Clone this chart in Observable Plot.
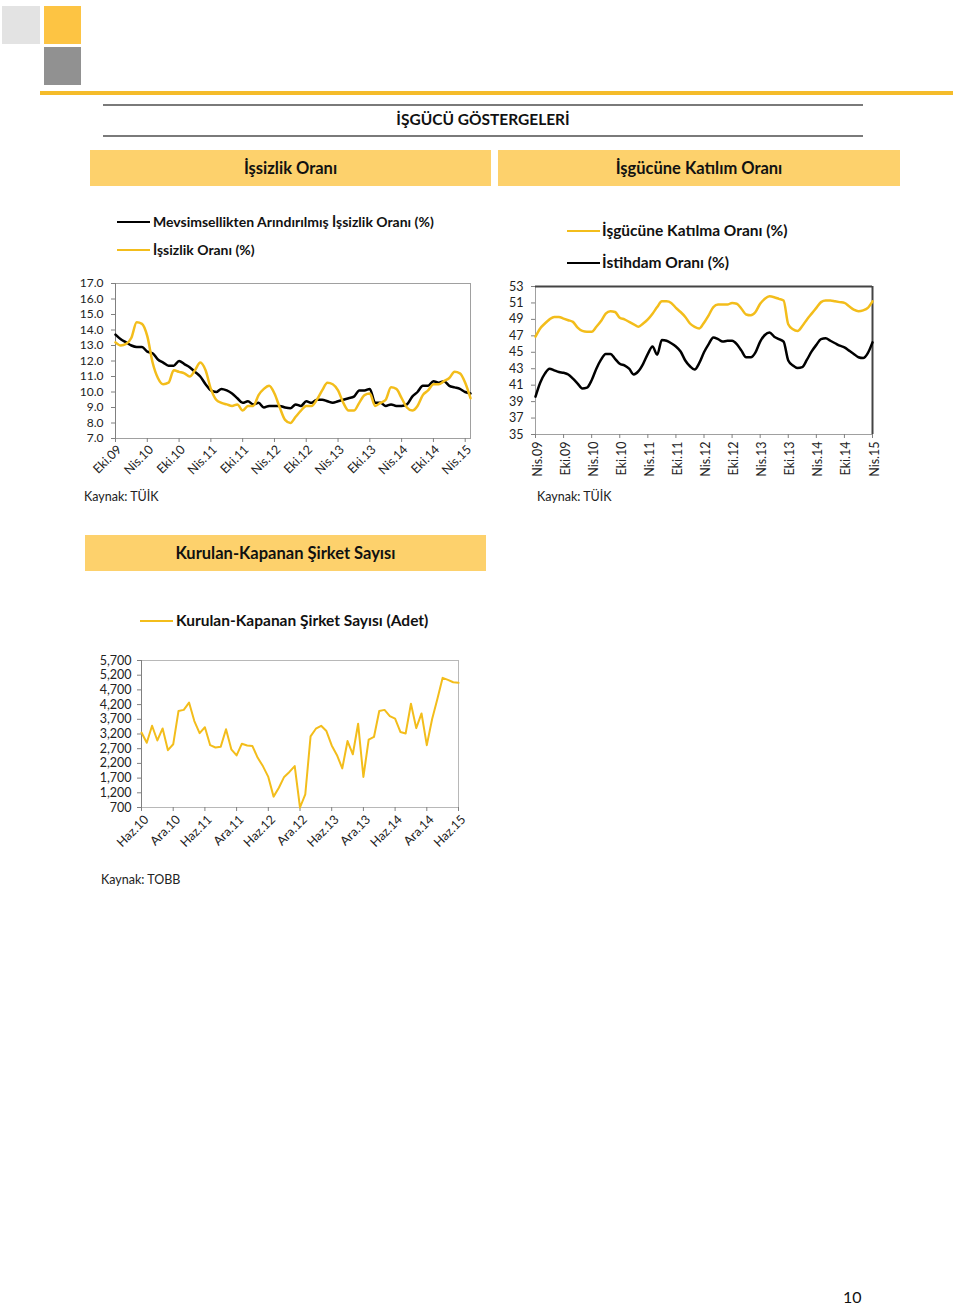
<!DOCTYPE html>
<html><head><meta charset="utf-8">
<script src="https://cdn.jsdelivr.net/npm/d3@7"></script>
<script src="https://cdn.jsdelivr.net/npm/@observablehq/plot@0.6"></script>
<style>
html,body{margin:0;padding:0;background:#fff}
body{width:960px;height:1305px;position:relative;overflow:hidden;font-family:Lato,"Open Sans",sans-serif;color:#111}
.box{position:absolute}
.hdr{position:absolute;background:#FDD16C;display:flex;align-items:center;justify-content:center;font-weight:bold;font-size:16.5px;color:#111}
.txt{position:absolute;white-space:nowrap;transform:translateY(-50%);line-height:1}
.leg{font-weight:bold;font-size:14px;color:#111}
.leg2{font-weight:bold;font-size:15.5px;color:#111}
.lg{position:absolute;height:2px}
.src{font-size:12.5px;color:#222}
svg.chart{position:absolute;overflow:visible}
</style>
</head><body>
<div class="box" style="left:2px;top:6px;width:38px;height:38px;background:#E3E3E3"></div>
<div class="box" style="left:44px;top:6px;width:37px;height:38px;background:#FDC443"></div>
<div class="box" style="left:44px;top:47px;width:37px;height:38px;background:#919191"></div>
<div class="box" style="left:40px;top:91px;width:913px;height:4px;background:#F5BC2A"></div>
<div class="box" style="left:103px;top:104px;width:760px;height:2px;background:#7a7a7a"></div>
<div class="box" style="left:103px;top:135px;width:760px;height:2px;background:#7a7a7a"></div>
<div class="txt" style="left:0;width:966px;text-align:center;top:120px;font-weight:bold;font-size:15.5px">İŞGÜCÜ GÖSTERGELERİ</div>

<div class="hdr" style="left:90px;top:150px;width:401px;height:36px">İşsizlik Oranı</div>
<div class="hdr" style="left:498px;top:150px;width:402px;height:36px">İşgücüne Katılım Oranı</div>
<div class="hdr" style="left:85px;top:535px;width:401px;height:36px">Kurulan-Kapanan Şirket Sayısı</div>

<div class="lg" style="left:117px;top:221px;width:33px;background:#000"></div>
<div class="txt leg" style="left:153px;top:222px">Mevsimsellikten Arındırılmış İşsizlik Oranı (%)</div>
<div class="lg" style="left:117px;top:249px;width:33px;background:#F3BD1B"></div>
<div class="txt leg" style="left:153px;top:250px">İşsizlik Oranı (%)</div>

<div class="lg" style="left:567px;top:230px;width:33px;background:#F3BD1B"></div>
<div class="txt leg2" style="left:602px;top:231px">İşgücüne Katılma Oranı (%)</div>
<div class="lg" style="left:567px;top:262px;width:33px;background:#000"></div>
<div class="txt leg2" style="left:602px;top:263px">İstihdam Oranı (%)</div>

<div class="lg" style="left:140px;top:620px;width:33px;background:#F3BD1B"></div>
<div class="txt leg2" style="left:176px;top:621px">Kurulan-Kapanan Şirket Sayısı (Adet)</div>

<div class="txt src" style="left:84px;top:497px">Kaynak: TÜİK</div>
<div class="txt src" style="left:537px;top:497px">Kaynak: TÜİK</div>
<div class="txt src" style="left:101px;top:880px">Kaynak: TOBB</div>
<div class="txt" style="left:843px;top:1297px;font-size:16px">10</div>

<script>
const yellow = "#F3BD1B";
const monthNames = ["Oca","Şub","Mar","Nis","May","Haz","Tem","Ağu","Eyl","Eki","Kas","Ara"];
function monthSeq(startM, startY, n){
  const out=[];
  for(let i=0;i<n;i++){const k=startM+i; out.push(monthNames[k%12]+"."+String(startY+Math.floor(k/12)).padStart(2,"0"));}
  return out;
}

// Chart 1: unemployment (Eki.09 - May.15)
const cats1 = monthSeq(9, 9, 68);
const ticks1 = ["Eki.09","Nis.10","Eki.10","Nis.11","Eki.11","Nis.12","Eki.12","Nis.13","Eki.13","Nis.14","Eki.14","Nis.15"];
const yTicks1 = [7,8,9,10,11,12,13,14,15,16,17];
const unempSA = [13.7,13.4,13.2,13.0,12.9,12.9,12.6,12.5,12.1,11.9,
  11.7,11.7,12.0,11.8,11.6,11.3,11.0,10.5,10.1,10.0,
  10.2,10.1,9.9,9.6,9.3,9.4,9.2,9.3,9.0,9.1,
  9.1,9.1,9.0,8.95,9.2,9.1,9.4,9.3,9.5,9.5,
  9.4,9.3,9.4,9.5,9.6,9.7,10.1,10.1,10.2,9.3,
  9.3,9.1,9.2,9.1,9.1,9.2,9.7,10.0,10.4,10.4,
  10.7,10.6,10.7,10.4,10.3,10.2,10.0,9.9];
const unempRaw = [13.2,13.0,13.1,13.5,14.5,14.4,13.6,11.9,10.9,10.5,
  10.6,11.4,11.3,11.2,11.0,11.4,11.9,11.4,10.2,9.5,
  9.3,9.2,9.1,9.2,8.8,9.1,9.1,9.8,10.2,10.4,
  9.9,9.0,8.2,8.0,8.4,8.8,9.1,9.1,9.5,10.1,
  10.6,10.5,10.1,9.3,8.8,8.8,9.3,9.8,9.9,9.1,
  9.3,9.5,10.3,10.2,9.6,9.0,8.8,9.1,9.8,10.1,
  10.5,10.5,10.7,10.9,11.3,11.2,10.6,9.6];

// Chart 2: participation & employment (Nis.09 - Nis.15)
const cats2 = monthSeq(3, 9, 73);
const ticks2 = ["Nis.09","Eki.09","Nis.10","Eki.10","Nis.11","Eki.11","Nis.12","Eki.12","Nis.13","Eki.13","Nis.14","Eki.14","Nis.15"];
const yTicks2 = [35,37,39,41,43,45,47,49,51,53];
const partRate = [46.9,47.9,48.5,49.0,49.3,49.3,49.1,48.9,48.7,48.0,
  47.6,47.5,47.5,48.1,48.8,49.7,50.0,49.9,49.2,49.0,
  48.7,48.4,48.1,48.5,49.0,49.7,50.5,51.2,51.2,51.0,
  50.4,49.9,49.3,48.5,48.1,47.9,48.6,49.5,50.5,50.8,
  50.8,50.8,51.0,50.9,50.3,49.6,49.5,49.9,50.9,51.5,
  51.8,51.7,51.5,51.3,48.4,47.8,47.6,48.2,49.0,49.7,
  50.4,51.1,51.3,51.3,51.2,51.1,51.0,50.6,50.2,50.0,
  50.1,50.4,51.2];
const empRate = [39.6,41.3,42.4,43.0,42.8,42.6,42.5,42.3,41.8,41.2,
  40.6,40.7,41.6,43.0,44.1,44.8,44.8,44.2,43.6,43.4,
  43.0,42.3,42.7,43.6,44.8,45.7,44.7,46.5,46.4,46.1,
  45.7,45.1,44.0,43.3,42.9,43.7,45.0,46.0,46.8,46.6,
  46.3,46.4,46.4,46.0,45.2,44.4,44.4,45.0,46.3,47.1,
  47.4,46.9,46.6,46.3,44.0,43.4,43.1,43.2,44.1,45.1,
  45.9,46.6,46.7,46.4,46.1,45.8,45.6,45.2,44.8,44.4,
  44.3,44.9,46.2];

// Chart 3: firms (Haz.10 - Haz.15)
const cats3 = monthSeq(5, 10, 61);
const ticks3 = ["Haz.10","Ara.10","Haz.11","Ara.11","Haz.12","Ara.12","Haz.13","Ara.13","Haz.14","Ara.14","Haz.15"];
const yTicks3 = [700,1200,1700,2200,2700,3200,3700,4200,4700,5200,5700];
const firms = [3250,2900,3480,2980,3390,2650,2850,3980,4020,4270,
  3640,3230,3430,2820,2740,2770,3360,2680,2470,2870,
  2810,2790,2390,2100,1740,1070,1370,1740,1910,2110,
  700,1150,3120,3380,3480,3300,2810,2480,2030,2960,
  2510,3550,1740,3010,3100,3980,4020,3810,3720,3270,
  3220,4230,3400,3900,2820,3700,4390,5110,5040,4960,
  4940];

function place(svg, left, top){
  svg.classList.add("chart");
  svg.style.left = left+"px"; svg.style.top = top+"px";
  document.body.appendChild(svg);
}
const baseStyle = {fontFamily:"Lato, sans-serif", color:"#222", background:"transparent", overflow:"visible"};
function xScale(cats, r){
  return {type:"linear", domain:[0, cats.length-1], range:r, insetLeft:0, insetRight:0, inset:0};
}
function xTicks(cats, ticks){ return ticks.map(t=>cats.indexOf(t)); }

const t1 = cats1.map((m,i)=>({i, sa:unempSA[i], raw:unempRaw[i]}));
place(Plot.plot({
  width:430, height:230, marginLeft:55, marginRight:20, marginTop:13, marginBottom:62,
  style:{...baseStyle, fontSize:"12.5px"},
  x:xScale(cats1, [55, 410]),
  y:{domain:[7,17]},
  marks:[
    Plot.frame({stroke:"#a0a0a0"}),
    Plot.ruleX([0], {stroke:"#808080"}),
    Plot.axisY({ticks:yTicks1, tickFormat:d=>d.toFixed(1), tickSize:4, tickPadding:8, label:null, stroke:"#808080", fontSize:12}),
    Plot.axisX({ticks:xTicks(cats1, ticks1), tickFormat:()=>"", tickSize:4, label:null, stroke:"#808080"}),
    Plot.axisX({ticks:xTicks(cats1, ticks1), tickFormat:i=>cats1[i], tickRotate:-45, tickSize:0, tickPadding:9, dx:4, label:null}),
    Plot.lineY(t1, {x:"i", y:"sa", stroke:"#000", strokeWidth:2.5, curve:"monotone-x"}),
    Plot.lineY(t1, {x:"i", y:"raw", stroke:yellow, strokeWidth:2.5, curve:"monotone-x"})
  ]
}), 60, 270);

const t2 = cats2.map((m,i)=>({i, p:partRate[i], e:empRate[i]}));
place(Plot.plot({
  width:400, height:210, marginLeft:40, marginRight:23, marginTop:11, marginBottom:51,
  style:{...baseStyle, fontSize:"12.5px"},
  x:xScale(cats2, [40, 377]),
  y:{domain:[35,53]},
  marks:[
    Plot.frame({stroke:"#a0a0a0"}),
    Plot.ruleY([53], {stroke:"#444", strokeWidth:2}),
    Plot.ruleX([cats2.length-1], {stroke:"#444", strokeWidth:2}),
    Plot.axisY({ticks:yTicks2, tickSize:4, tickPadding:8, label:null, stroke:"#808080"}),
    Plot.axisX({ticks:xTicks(cats2, ticks2), tickFormat:()=>"", tickSize:4, label:null, stroke:"#808080"}),
    Plot.axisX({ticks:xTicks(cats2, ticks2), tickFormat:i=>cats2[i], tickRotate:-90, tickSize:0, tickPadding:7, dx:2, label:null}),
    Plot.lineY(t2, {x:"i", y:"p", stroke:yellow, strokeWidth:2.5, curve:"monotone-x"}),
    Plot.lineY(t2, {x:"i", y:"e", stroke:"#000", strokeWidth:2.5, curve:"monotone-x"})
  ]
}), 495, 275);

const t3 = cats3.map((m,i)=>({i, v:firms[i]}));
place(Plot.plot({
  width:390, height:210, marginLeft:51, marginRight:22, marginTop:10, marginBottom:53,
  style:{...baseStyle, fontSize:"12.5px"},
  x:xScale(cats3, [51, 368]),
  y:{domain:[700,5700]},
  marks:[
    Plot.frame({stroke:"#b8b8b8"}),
    Plot.ruleX([0], {stroke:"#808080"}),
    Plot.axisY({ticks:yTicks3, tickFormat:d3.format(","), tickSize:4, tickPadding:6, label:null, stroke:"#808080"}),
    Plot.axisX({ticks:xTicks(cats3, ticks3), tickFormat:()=>"", tickSize:4, label:null, stroke:"#808080"}),
    Plot.axisX({ticks:xTicks(cats3, ticks3), tickFormat:i=>cats3[i], tickRotate:-45, tickSize:0, tickPadding:10, dx:5, label:null}),
    Plot.lineY(t3, {x:"i", y:"v", stroke:yellow, strokeWidth:2})
  ]
}), 90, 650);
</script>
</body></html>
